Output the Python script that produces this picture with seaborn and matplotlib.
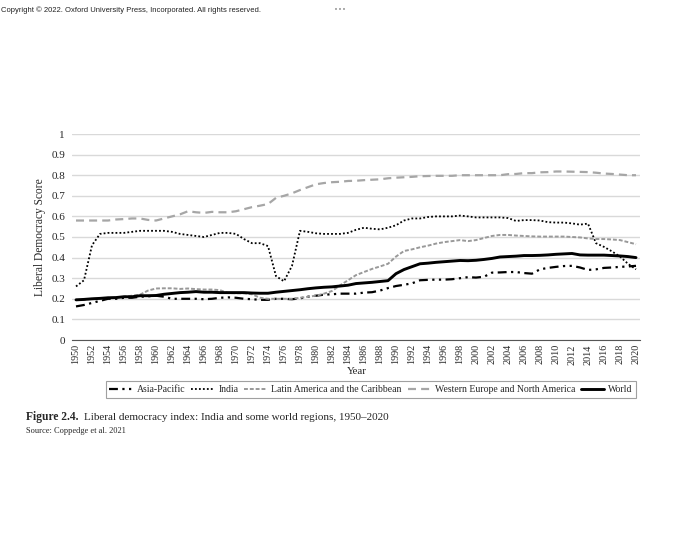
import numpy as np
import pandas as pd
import matplotlib
matplotlib.use("Agg")
from matplotlib import pyplot as plt
from matplotlib.ticker import FixedLocator
import seaborn as sns

years = list(range(1950, 2021))

asia_pacific = [0.163, 0.17, 0.18, 0.19, 0.20, 0.20, 0.205, 0.205, 0.21, 0.212,
                0.215, 0.21, 0.20, 0.20, 0.20, 0.20, 0.198, 0.20, 0.205, 0.207,
                0.205, 0.20, 0.198, 0.195, 0.195, 0.20, 0.20, 0.198, 0.202, 0.21,
                0.215, 0.22, 0.222, 0.225, 0.225, 0.225, 0.23, 0.232, 0.24, 0.252,
                0.262, 0.268, 0.275, 0.29, 0.292, 0.293, 0.293, 0.295, 0.30, 0.305,
                0.303, 0.307, 0.327, 0.328, 0.33, 0.33, 0.325, 0.322, 0.343, 0.35,
                0.355, 0.359, 0.36, 0.352, 0.34, 0.343, 0.35, 0.352, 0.355, 0.357,
                0.36]

india = [0.26, 0.29, 0.46, 0.515, 0.52, 0.52, 0.52, 0.525, 0.53, 0.53,
         0.53, 0.53, 0.525, 0.515, 0.51, 0.505, 0.50, 0.51, 0.52, 0.52,
         0.515, 0.49, 0.47, 0.47, 0.456, 0.31, 0.285, 0.36, 0.53, 0.525,
         0.518, 0.515, 0.515, 0.515, 0.52, 0.535, 0.545, 0.54, 0.537, 0.545,
         0.557, 0.58, 0.59, 0.59, 0.597, 0.60, 0.60, 0.60, 0.604, 0.60,
         0.595, 0.595, 0.595, 0.595, 0.592, 0.578, 0.582, 0.582, 0.58, 0.572,
         0.57, 0.57, 0.566, 0.56, 0.565, 0.47, 0.452, 0.43, 0.405, 0.37,
         0.343]

latin_america = [0.195, 0.195, 0.20, 0.20, 0.205, 0.205, 0.21, 0.215, 0.22, 0.24,
                 0.25, 0.251, 0.251, 0.248, 0.25, 0.247, 0.245, 0.245, 0.242, 0.228,
                 0.227, 0.227, 0.222, 0.205, 0.20, 0.20, 0.20, 0.20, 0.205, 0.21,
                 0.215, 0.225, 0.238, 0.265, 0.29, 0.315, 0.33, 0.345, 0.357, 0.37,
                 0.405, 0.432, 0.44, 0.45, 0.458, 0.468, 0.475, 0.48, 0.485, 0.48,
                 0.485, 0.495, 0.505, 0.51, 0.51, 0.507, 0.505, 0.503, 0.502, 0.502,
                 0.502, 0.502, 0.50, 0.498, 0.493, 0.49, 0.49, 0.488, 0.485, 0.475,
                 0.465]

western_europe = [0.58, 0.58, 0.58, 0.58, 0.58, 0.585, 0.587, 0.59, 0.59, 0.583,
                  0.58, 0.59, 0.60, 0.61, 0.625, 0.62, 0.617, 0.622, 0.62, 0.62,
                  0.625, 0.635, 0.645, 0.652, 0.66, 0.69, 0.70, 0.712, 0.728, 0.742,
                  0.756, 0.762, 0.766, 0.768, 0.772, 0.773, 0.776, 0.778, 0.78, 0.785,
                  0.788, 0.79, 0.792, 0.795, 0.796, 0.797, 0.797, 0.797, 0.80, 0.80,
                  0.80, 0.80, 0.80, 0.80, 0.805, 0.806, 0.81, 0.81, 0.814, 0.815,
                  0.818, 0.818, 0.817, 0.816, 0.815, 0.812, 0.808, 0.806, 0.803, 0.80,
                  0.80]

world = [0.195, 0.197, 0.20, 0.202, 0.205, 0.206, 0.21, 0.21, 0.215, 0.215,
         0.216, 0.222, 0.226, 0.23, 0.232, 0.235, 0.232, 0.232, 0.23, 0.23,
         0.23, 0.23, 0.228, 0.227, 0.227, 0.232, 0.236, 0.24, 0.244, 0.249,
         0.253, 0.256, 0.258, 0.262, 0.266, 0.274, 0.277, 0.28, 0.284, 0.288,
         0.322, 0.342, 0.356, 0.37, 0.373, 0.377, 0.38, 0.383, 0.386, 0.385,
         0.387, 0.391, 0.396, 0.403, 0.405, 0.407, 0.41, 0.41, 0.411, 0.413,
         0.416, 0.418, 0.42, 0.413, 0.412, 0.412, 0.412, 0.41, 0.408, 0.405,
         0.40]

series = {
    "Asia-Pacific": asia_pacific,
    "India": india,
    "Latin America and the Caribbean": latin_america,
    "Western Europe and North America": western_europe,
    "World": world,
}

styles = {
    "Asia-Pacific": dict(color="black", lw=1.6, linestyle=(0, (4, 2, 1, 2, 1, 2))),
    "India": dict(color="black", lw=1.3, linestyle=(0, (1, 1.2))),
    "Latin America and the Caribbean": dict(color="#999999", lw=1.4, linestyle=(0, (2, 1))),
    "Western Europe and North America": dict(color="#a6a6a6", lw=1.6, linestyle=(0, (3.6, 2.3))),
    "World": dict(color="black", lw=2.1, linestyle="-"),
}

sns.set_style("white")
plt.rcParams["font.family"] = ["Liberation Serif", "DejaVu Serif"]

fig = plt.figure(figsize=(6.8, 5.39), dpi=100)
ax = fig.add_axes([72 / 680, 1 - 340 / 539, 568 / 680, 206 / 539])

for name, vals in series.items():
    sns.lineplot(x=years, y=vals, ax=ax, label=name, errorbar=None, **styles[name])

ax.set_xlim(1949.5, 2020.5)
ax.set_ylim(0, 1)
ax.set_yticks(np.arange(0, 1.01, 0.1))
ax.set_yticklabels(["0", "0.1", "0.2", "0.3", "0.4", "0.5", "0.6", "0.7", "0.8", "0.9", "1"])
ax.grid(axis="y", color="#d9d9d9", lw=1)
ax.set_axisbelow(True)

# year labels every 2 years, tick marks between the yearly categories
ax.set_xticks(years[::2])
ax.set_xticklabels([str(y) for y in years[::2]], rotation=90)
ax.xaxis.set_minor_locator(FixedLocator(np.arange(1949.5, 2021, 1)))
ax.tick_params(axis="x", which="major", length=0, labelsize=7.3, pad=3)
ax.tick_params(axis="x", which="minor", length=4, direction="in", color="#555555", width=0.8)
ax.tick_params(axis="y", length=0, labelsize=8, pad=5)

for s in ["top", "right", "left"]:
    ax.spines[s].set_visible(False)
ax.spines["bottom"].set_color("#555555")
ax.spines["bottom"].set_linewidth(0.8)

ax.set_ylabel("Liberal Democracy Score", fontsize=8.3, labelpad=4)
ax.set_xlabel("")
fig.text(357 / 680, 1 - 371 / 539, "Year", fontsize=7.8, ha="center", va="center")

ax.legend().remove()
handles, labels = ax.get_legend_handles_labels()
leg = fig.legend(handles, labels, loc="center", bbox_to_anchor=(371 / 680, 1 - 389.5 / 539),
                 ncol=5, fontsize=7.0, frameon=True, fancybox=False, edgecolor="#888888",
                 handlelength=2.4, columnspacing=0.6, handletextpad=0.4,
                 borderpad=0.4, borderaxespad=0)
leg.get_frame().set_linewidth(0.8)

fig.text(26 / 680, 1 - 417 / 539, "Figure 2.4.", fontsize=8.3, fontweight="bold", va="center")
fig.text(84 / 680, 1 - 417 / 539, "Liberal democracy index: India and some world regions, 1950\u20132020",
         fontsize=8, va="center")
fig.text(26 / 680, 1 - 431 / 539, "Source: Coppedge et al. 2021", fontsize=6, va="center")

fig.text(1 / 680, 1 - 10 / 539, "Copyright \u00a9 2022. Oxford University Press, Incorporated. All rights reserved.",
         fontsize=5.5, family=["Liberation Sans", "DejaVu Sans"], va="center", color="#222222")
fig.text(340 / 680, 1 - 10 / 539, "\u2022\u2022\u2022", fontsize=5, family=["DejaVu Sans"],
         ha="center", va="center", color="#999999")

fig.savefig("out.png", dpi=100)
